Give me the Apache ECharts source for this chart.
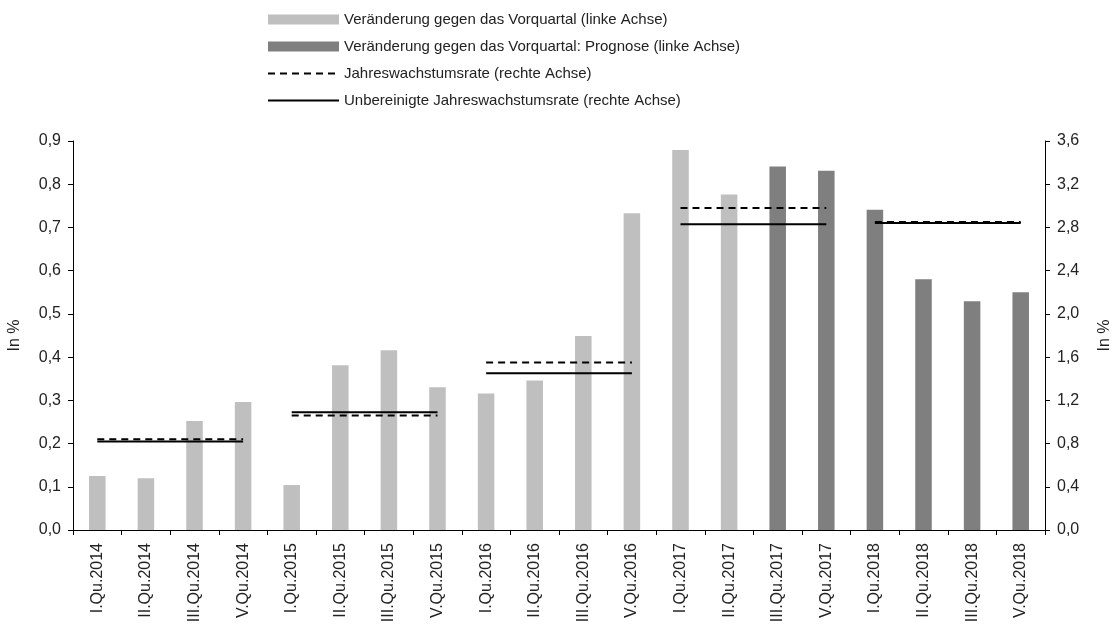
<!DOCTYPE html>
<html><head><meta charset="utf-8">
<script src="https://cdn.jsdelivr.net/npm/echarts@6/dist/echarts.min.js"></script>
<style>html,body{margin:0;padding:0;background:#fff}#c{width:1115px;height:634px}</style>
</head><body><div id="c"></div>
<script>
const categories = ['I.Qu.2014','II.Qu.2014','III.Qu.2014','V.Qu.2014','I.Qu.2015','II.Qu.2015','III.Qu.2015','V.Qu.2015','I.Qu.2016','II.Qu.2016','III.Qu.2016','V.Qu.2016','I.Qu.2017','II.Qu.2017','III.Qu.2017','V.Qu.2017','I.Qu.2018','II.Qu.2018','III.Qu.2018','V.Qu.2018'];
const qoqActual = [0.125,0.120,0.252,0.296,0.104,0.381,0.416,0.330,0.316,0.346,0.449,0.733,0.879,0.776,null,null,null,null,null,null];
const qoqForecast = [null,null,null,null,null,null,null,null,null,null,null,null,null,null,0.841,0.831,0.741,0.580,0.529,0.550];
const annualRate = [0.84,1.06,1.55,2.98,2.85];
const unadjRate = [0.82,1.09,1.45,2.83,2.84];
const leftTicks = {min:0,max:0.9,interval:0.1};
const rightTicks = {min:0,max:3.6,interval:0.4};

const names = ['Veränderung gegen das Vorquartal (linke Achse)','Veränderung gegen das Vorquartal: Prognose (linke Achse)','Jahreswachstumsrate (rechte Achse)','Unbereinigte Jahreswachstumsrate (rechte Achse)'];
const FONT = 'Liberation Sans';
function yearData(arr, y){ return categories.map((c,i)=> Math.floor(i/4)===y ? arr[y] : null); }
const series = [
 {name:names[0],type:'bar',data:qoqActual,barWidth:'34%',barGap:'-100%',itemStyle:{color:'#bfbfbf'}},
 {name:names[1],type:'bar',data:qoqForecast,barWidth:'34%',barGap:'-100%',itemStyle:{color:'#7f7f7f'}}
];
for(let y=0;y<annualRate.length;y++){
 series.push({name:names[3],type:'line',yAxisIndex:1,data:yearData(unadjRate,y),symbol:'none',lineStyle:{color:'#000',width:2,type:'solid'},itemStyle:{color:'#000'},z:3});
 series.push({name:names[2],type:'line',yAxisIndex:1,data:yearData(annualRate,y),symbol:'none',lineStyle:{color:'#000',width:2,type:[7,5]},itemStyle:{color:'#000'},z:4});
}
const fmt = v => v.toFixed(1).replace('.',',');
const chart = echarts.init(document.getElementById('c'),null,{renderer:'canvas'});
chart.setOption({
 animation:false,
 textStyle:{fontFamily:FONT,color:'#222'},
 legend:{orient:'vertical',left:262,top:7,itemWidth:71,itemHeight:10,itemGap:12,
   textStyle:{fontFamily:FONT,fontSize:15,color:'#222'},
   data:[{name:names[0],icon:'rect'},{name:names[1],icon:'rect'},
         {name:names[2],itemStyle:{opacity:0}},{name:names[3],itemStyle:{opacity:0}}]},
 grid:{left:73,right:70,top:141,bottom:104,containLabel:false,outerBoundsMode:'none'},
 xAxis:{type:'category',data:categories,boundaryGap:true,
   axisLine:{lineStyle:{color:'#000',width:1}},
   axisTick:{show:true,alignWithLabel:false,length:5,lineStyle:{color:'#000'}},
   axisLabel:{rotate:90,fontSize:16,color:'#222',margin:13,fontFamily:FONT,interval:0}},
 yAxis:[
  {type:'value',...leftTicks,name:'In %',nameLocation:'middle',nameGap:50,nameRotate:90,
   nameTextStyle:{fontSize:16,color:'#222',fontFamily:FONT},
   axisLine:{show:true,lineStyle:{color:'#000'}},axisTick:{show:true,length:5,lineStyle:{color:'#000'}},
   splitLine:{show:false},axisLabel:{formatter:fmt,fontSize:16,color:'#222',margin:12,fontFamily:FONT}},
  {type:'value',...rightTicks,name:'In %',nameLocation:'middle',nameGap:52,nameRotate:90,position:'right',
   nameTextStyle:{fontSize:16,color:'#222',fontFamily:FONT},
   axisLine:{show:true,lineStyle:{color:'#000'}},axisTick:{show:true,length:5,lineStyle:{color:'#000'}},
   splitLine:{show:false},axisLabel:{formatter:fmt,fontSize:16,color:'#222',margin:12,fontFamily:FONT}}
 ],
 series:series
});
</script></body></html>
